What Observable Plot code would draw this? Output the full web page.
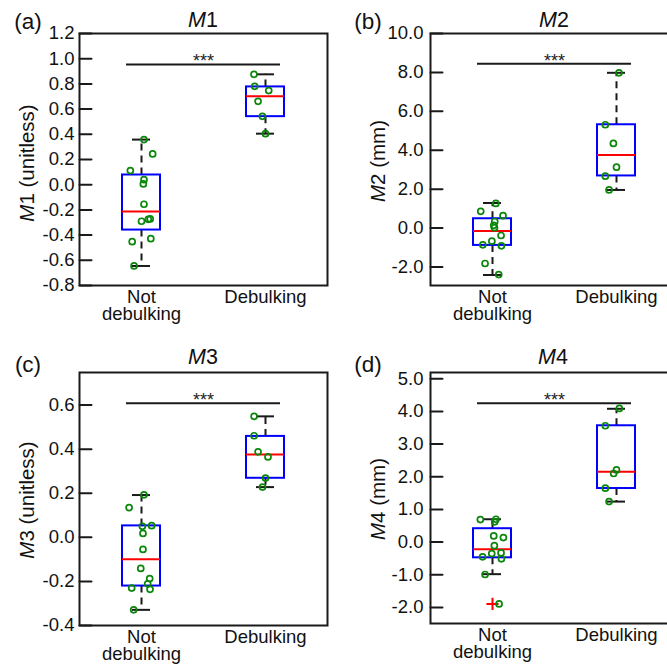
<!DOCTYPE html>
<html><head><meta charset="utf-8">
<script src="https://cdn.jsdelivr.net/npm/d3@7"></script>
<script src="https://cdn.jsdelivr.net/npm/@observablehq/plot@0.6"></script>
<style>
html,body{margin:0;padding:0;background:#fff;}
#root{position:relative;width:667px;height:666px;overflow:hidden;font-family:"Liberation Sans",Arial,sans-serif;color:#111;}
.panel{position:absolute;}
.panel svg{max-width:none !important;}
.lbl{position:absolute;white-space:nowrap;line-height:1;transform:translate(-50%,-50%);}
.rot{transform:translate(-50%,-50%) rotate(-90deg);}
</style></head><body><div id="root"></div>
<script>
// ---- data ----
const categories = ["Not debulking", "Debulking"];
const tickLabels = ["Not\ndebulking", "Debulking"];

// M1 (unitless)
const m1Ticks = [-0.8, -0.6, -0.4, -0.2, 0, 0.2, 0.4, 0.6, 0.8, 1.0, 1.2];
const m1Not = [0.358, 0.244, 0.112, 0.040, 0.006, -0.155, -0.290, -0.275, -0.272, -0.452, -0.428, -0.645];
const m1NotJit = [0.02, 0.09, -0.09, 0.02, 0.015, 0.02, 0.0, 0.055, 0.07, -0.075, 0.075, -0.06];
const m1Deb = [0.876, 0.781, 0.747, 0.662, 0.543, 0.405];
const m1DebJit = [-0.093, -0.087, 0.026, -0.06, -0.025, 0];
const m1BoxNot = [-0.645, -0.36, -0.213, 0.077, 0.358]; // lo, q1, median, q3, hi
const m1BoxDeb = [0.405, 0.540, 0.702, 0.776, 0.876];
const m1Sig = [0.953];

// M2 (mm)
const m2Ticks = [-2, 0, 2, 4, 6, 8, 10];
const m2Not = [1.27, 0.86, 0.64, 0.34, 0.14, 0.02, -0.38, -0.67, -0.86, -0.91, -1.82, -2.39];
const m2NotJit = [0.027, -0.095, 0.085, 0.018, 0.01, 0.016, 0.069, -0.005, -0.078, 0.072, -0.06, 0.05];
const m2Deb = [7.98, 5.31, 4.35, 3.13, 2.67, 1.96];
const m2DebJit = [0.02, -0.09, -0.025, 0, -0.09, -0.06];
const m2BoxNot = [-2.41, -0.89, -0.15, 0.48, 1.29];
const m2BoxDeb = [1.96, 2.68, 3.75, 5.31, 7.98];
const m2Sig = [8.44];

// M3 (unitless)
const m3Ticks = [-0.4, -0.2, 0, 0.2, 0.4, 0.6];
const m3Not = [0.193, 0.135, 0.050, 0.053, 0.018, -0.055, -0.141, -0.187, -0.211, -0.230, -0.236, -0.329];
const m3NotJit = [0.02, -0.10, 0.007, 0.082, 0.012, 0.012, -0.006, 0.066, 0.05, -0.079, 0.069, -0.063];
const m3Deb = [0.549, 0.461, 0.388, 0.365, 0.269, 0.228];
const m3DebJit = [-0.092, -0.092, -0.06, 0.02, 0, -0.024];
const m3BoxNot = [-0.329, -0.221, -0.099, 0.052, 0.192];
const m3BoxDeb = [0.228, 0.268, 0.376, 0.458, 0.549];
const m3Sig = [0.609];

// M4 (mm)
const m4Ticks = [-2, -1, 0, 1, 2, 3, 4, 5];
const m4Not = [0.69, 0.70, 0.62, 0.19, 0.14, -0.11, -0.35, -0.33, -0.45, -0.51, -0.99, -1.89];
const m4NotJit = [-0.098, 0.028, 0.018, 0.01, 0.088, 0.015, -0.006, 0.069, -0.08, 0.072, -0.06, 0.053];
const m4Deb = [4.09, 3.56, 2.21, 2.10, 1.65, 1.24];
const m4DebJit = [0.023, -0.09, 0, -0.023, -0.09, -0.06];
const m4BoxNot = [-0.98, -0.48, -0.22, 0.41, 0.70];
const m4BoxDeb = [1.24, 1.64, 2.15, 3.56, 4.08];
const m4OutNot = [-1.89];
const m4Sig = [4.25];

// ---- drawing ----
const root = document.getElementById("root");
const tickShape = {draw(ctx, l) { ctx.moveTo(0, 0); ctx.lineTo(0, -l); }};
const INK = "#1a1a1a";

function panel(o) {
  const pts = [
    ...o.notV.map((v, i) => ({pos: 1, jit: o.notJ[i], v})),
    ...o.debV.map((v, i) => ({pos: 2, jit: o.debJ[i], v}))
  ];
  const boxes = [o.boxNot, o.boxDeb].map((b, i) => ({pos: i + 1, cat: categories[i], lo: b[0], q1: b[1], med: b[2], q3: b[3], hi: b[4]}));
  const sig = o.sig.map(y => ({y, x1: 1, x2: 2, label: "***"}));
  const outl = (o.outNot || []).map(v => ({pos: 1, v}));
  const chart = Plot.plot({
    width: o.w, height: o.h,
    marginLeft: o.mL, marginRight: o.mR, marginTop: o.mT, marginBottom: o.mB,
    style: {fontFamily: '"Liberation Sans", Arial, sans-serif', fontSize: "18px", color: "#111", background: "transparent", overflow: "visible", maxWidth: "none"},
    x: {domain: [0.5, 2.5]},
    y: {domain: o.domain},
    marks: [
      Plot.frame({stroke: INK, strokeWidth: 2}),
      Plot.vector(o.ticks, {y: d => d, frameAnchor: "left", length: 12, rotate: 90, anchor: "start", shape: tickShape, stroke: INK, strokeWidth: 2}),
      Plot.axisY(o.ticks, {tickSize: 0, tickPadding: o.pad, tickFormat: d => d.toFixed(1), fontSize: 18.5, label: null}),
      Plot.axisX([1, 2], {tickSize: 0, tickPadding: 6, tickFormat: i => tickLabels[i - 1], fontSize: 18.5, lineHeight: 0.9, label: null}),
      Plot.ruleY(sig, {y: "y", x1: "x1", x2: "x2", insetLeft: -15, insetRight: -15, stroke: INK, strokeWidth: 2}),
      Plot.text(sig, {x: d => (d.x1 + d.x2) / 2, y: "y", text: "label", fontSize: 18, lineAnchor: "middle", dy: -3, fill: "#222"}),
      Plot.ruleX(boxes, {x: "pos", y1: "q3", y2: "hi", stroke: INK, strokeWidth: 2, strokeDasharray: "7,5"}),
      Plot.ruleX(boxes, {x: "pos", y1: "q1", y2: "lo", stroke: INK, strokeWidth: 2, strokeDasharray: "7,5"}),
      Plot.ruleY(boxes, {y: "hi", x1: "pos", x2: "pos", insetLeft: -9, insetRight: -9, stroke: INK, strokeWidth: 2}),
      Plot.ruleY(boxes, {y: "lo", x1: "pos", x2: "pos", insetLeft: -9, insetRight: -9, stroke: INK, strokeWidth: 2}),
      Plot.rect(boxes, {x1: "pos", x2: "pos", y1: "q1", y2: "q3", insetLeft: -19, insetRight: -19, fill: "none", stroke: "#0000ff", strokeWidth: 2}),
      Plot.ruleY(boxes, {y: "med", x1: "pos", x2: "pos", insetLeft: -19, insetRight: -19, stroke: "#ff0000", strokeWidth: 2}),
      Plot.dot(outl, {x: "pos", y: "v", symbol: "plus", r: 4, stroke: "#ff0000", strokeWidth: 2}),
      Plot.dot(pts, {x: d => d.pos + d.jit, y: "v", r: 3, stroke: "#0a870a", strokeWidth: 1.7, fill: "none"})
    ]
  });
  const wrap = document.createElement("div");
  wrap.className = "panel";
  wrap.style.left = o.left + "px";
  wrap.style.top = o.top + "px";
  wrap.style.width = o.w + "px";
  wrap.style.height = o.h + "px";
  wrap.appendChild(chart);
  root.appendChild(wrap);

  const add = (html, x, y, size, cls) => {
    const d = document.createElement("div");
    d.className = "lbl" + (cls ? " " + cls : "");
    d.style.left = x + "px"; d.style.top = y + "px"; d.style.fontSize = size + "px";
    d.innerHTML = html;
    root.appendChild(d);
  };
  add(o.letter, o.letterX, o.letterY, 22.5);
  add(`<i>M</i>${o.n}`, o.titleX, o.titleY, 21.5);
  add(`<i>M</i>${o.n} (${o.unit})`, o.ylabX, o.ylabY, 20.5, "rot");
}

panel({left: 0, top: 0, w: 333, h: 333, mL: 79, mR: 6, mT: 33, mB: 48, domain: [-0.8, 1.2], ticks: m1Ticks, pad: 5,
  notV: m1Not, notJ: m1NotJit, debV: m1Deb, debJ: m1DebJit, boxNot: m1BoxNot, boxDeb: m1BoxDeb, sig: m1Sig,
  letter: "(a)", letterX: 28, letterY: 22, n: 1, unit: "unitless", titleX: 203, titleY: 21, ylabX: 27, ylabY: 163});
panel({left: 333, top: 0, w: 360, h: 333, mL: 97, mR: 15, mT: 33, mB: 48, domain: [-2.95, 10], ticks: m2Ticks, pad: 7,
  notV: m2Not, notJ: m2NotJit, debV: m2Deb, debJ: m2DebJit, boxNot: m2BoxNot, boxDeb: m2BoxDeb, sig: m2Sig,
  letter: "(b)", letterX: 368, letterY: 22, n: 2, unit: "mm", titleX: 554, titleY: 21, ylabX: 378, ylabY: 161});
panel({left: 0, top: 333, w: 333, h: 333, mL: 79, mR: 6, mT: 39, mB: 41, domain: [-0.4, 0.748], ticks: m3Ticks, pad: 5,
  notV: m3Not, notJ: m3NotJit, debV: m3Deb, debJ: m3DebJit, boxNot: m3BoxNot, boxDeb: m3BoxDeb, sig: m3Sig,
  letter: "(c)", letterX: 28, letterY: 365, n: 3, unit: "unitless", titleX: 203, titleY: 358, ylabX: 27, ylabY: 500});
panel({left: 333, top: 333, w: 360, h: 333, mL: 97, mR: 15, mT: 39, mB: 43, domain: [-2.49, 5.19], ticks: m4Ticks, pad: 7,
  notV: m4Not, notJ: m4NotJit, debV: m4Deb, debJ: m4DebJit, boxNot: m4BoxNot, boxDeb: m4BoxDeb, sig: m4Sig, outNot: m4OutNot,
  letter: "(d)", letterX: 368, letterY: 365, n: 4, unit: "mm", titleX: 553, titleY: 358, ylabX: 378, ylabY: 499});
</script></body></html>
